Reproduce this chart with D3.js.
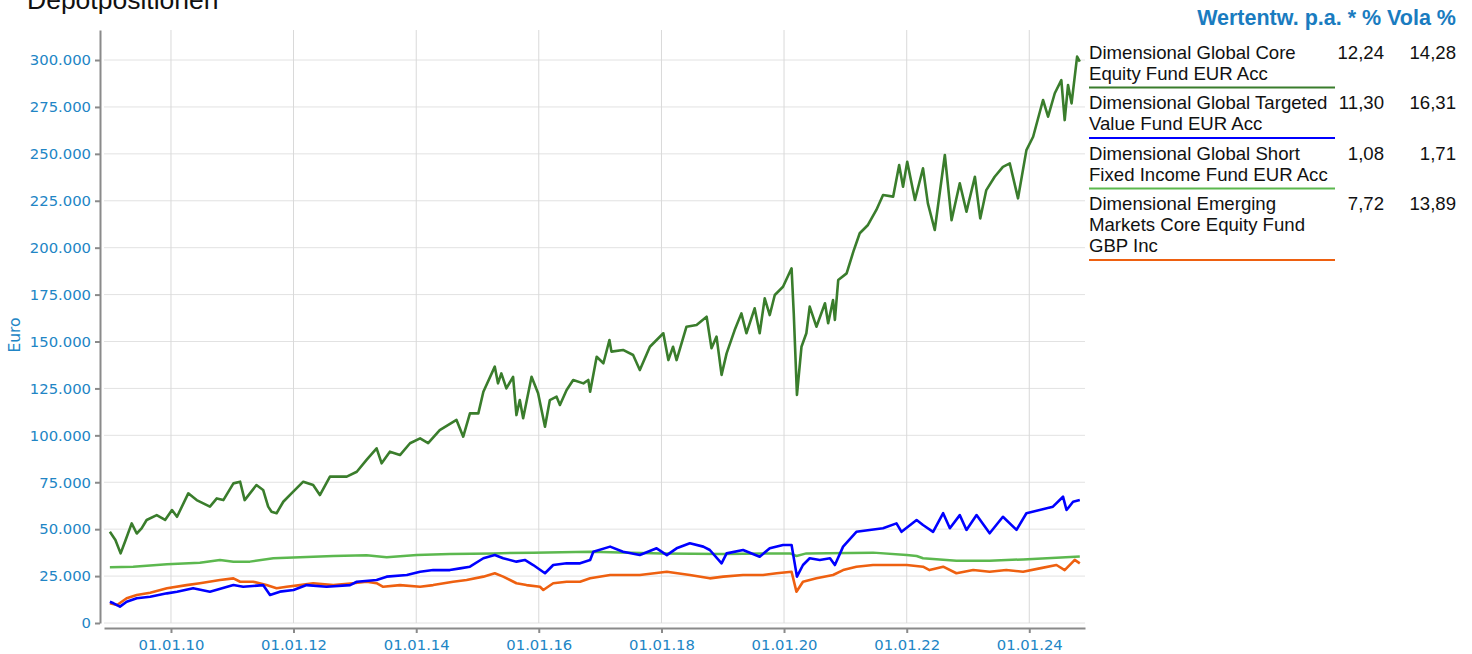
<!DOCTYPE html>
<html>
<head>
<meta charset="utf-8">
<script src="https://cdn.jsdelivr.net/npm/d3@7"></script>
<style>
  body { margin: 0; background: #fff; }
  svg { display: block; }
</style>
</head>
<body>
<svg id="chart"></svg>
<script>
// values (Euro, approx.)
const coreEquity = [
  ["2009-01-02",48600],["2009-02-04",44200],["2009-03-07",37100],["2009-04-02",43300],["2009-05-12",53100],
  ["2009-06-11",47700],["2009-07-10",50400],["2009-08-09",54900],["2009-10-08",57500],["2009-11-27",54900],
  ["2010-01-07",60200],["2010-02-06",56600],["2010-04-14",69100],["2010-06-03",65500],["2010-08-21",62000],
  ["2010-10-01",66400],["2010-11-09",65500],["2011-01-08",74400],["2011-02-17",75300],["2011-03-16",65500],
  ["2011-05-25",73500],["2011-07-04",70900],["2011-08-03",62000],["2011-08-23",59300],["2011-09-22",58500],
  ["2011-11-01",64600],["2011-12-20",69100],["2012-02-28",75300],["2012-04-27",73500],["2012-06-06",68200],
  ["2012-08-05",78000],["2012-11-13",78000],["2013-01-12",80600],["2013-03-11",86900],["2013-05-10",93100],
  ["2013-06-09",85100],["2013-07-28",91300],["2013-09-26",89500],["2013-11-25",95800],["2014-01-24",98400],
  ["2014-03-13",95800],["2014-05-21",102800],["2014-08-29",108200],["2014-10-08",99300],["2014-11-17",111700],
  ["2015-01-06",111700],["2015-02-05",123200],["2015-04-14",136600],["2015-05-03",127700],["2015-05-23",133000],
  ["2015-06-22",125000],["2015-08-01",131200],["2015-08-21",110800],["2015-09-10",118800],["2015-09-30",109100],
  ["2015-11-19",131200],["2015-12-28",122400],["2016-02-07",104600],["2016-03-07",118800],["2016-04-16",120600],
  ["2016-05-06",116200],["2016-06-15",124200],["2016-07-24",129500],["2016-09-23",127700],["2016-10-22",129500],
  ["2016-11-02",123200],["2016-12-11",141900],["2017-01-20",138400],["2017-02-25",150800],["2017-03-09",144600],
  ["2017-05-17",145500],["2017-07-16",142800],["2017-08-25",134800],["2017-10-24",147200],["2018-01-12",154400],
  ["2018-02-11",140100],["2018-03-11",147200],["2018-04-01",140100],["2018-05-30",157900],["2018-07-29",158800],
  ["2018-09-27",163200],["2018-10-26",146400],["2018-11-25",152600],["2018-12-25",132200],["2019-01-24",143700],
  ["2019-03-13",156100],["2019-04-22",165000],["2019-05-22",154400],["2019-07-10",167700],["2019-08-09",154400],
  ["2019-09-08",173000],["2019-10-08",164100],["2019-11-07",174800],["2019-12-26",179200],["2020-02-15",189000],
  ["2020-02-28",165000],["2020-03-18",121500],["2020-04-14",147200],["2020-05-13",154400],["2020-06-02",168600],
  ["2020-07-12",157900],["2020-09-01",170400],["2020-09-20",159700],["2020-10-19",172100],["2020-10-30",161500],
  ["2020-11-19",182800],["2021-01-08",186300],["2021-02-17",197900],["2021-03-27",207700],["2021-05-15",212100],
  ["2021-07-04",220100],["2021-08-13",228100],["2021-10-12",227200],["2021-11-17",244000],["2021-12-10",232500],
  ["2022-01-04",245800],["2022-02-19",225400],["2022-04-08",242300],["2022-05-07",223600],["2022-06-17",209400],
  ["2022-08-16",249400],["2022-09-25",214700],["2022-11-13",234300],["2022-12-23",219200],["2023-02-11",237800],
  ["2023-03-15",215600],["2023-04-20",230700],["2023-06-09",237800],["2023-07-28",243100],["2023-09-07",244900],
  ["2023-10-26",226300],["2023-12-15",252000],["2024-01-24",259100],["2024-03-23",278700],["2024-04-22",269800],
  ["2024-06-01",282300],["2024-07-10",289300],["2024-07-30",268000],["2024-08-19",286700],["2024-09-09",276900],
  ["2024-10-12",301800],["2024-10-28",299100]
]

const targetedValue = [
  ["2009-01-02",11300],["2009-01-24",10500],["2009-03-03",8700],["2009-04-12",11300],["2009-06-11",13200],
  ["2009-08-30",14000],["2009-12-08",15800],["2010-02-06",16700],["2010-05-13",18500],["2010-08-21",16700],
  ["2011-01-08",20200],["2011-03-07",19300],["2011-07-04",20200],["2011-08-14",14900],["2011-10-12",16700],
  ["2012-01-01",17600],["2012-03-19",20200],["2012-07-16",19300],["2012-12-03",20200],["2013-01-12",22000],
  ["2013-05-10",22900],["2013-07-09",24700],["2013-11-06",25600],["2014-01-24",27300],["2014-04-12",28200],
  ["2014-07-20",28200],["2014-09-19",29100],["2014-11-17",30000],["2015-02-05",34500],["2015-04-14",36200],
  ["2015-06-03",34500],["2015-08-21",32700],["2015-10-10",33600],["2015-11-29",30900],["2016-02-07",26500],
  ["2016-03-27",30900],["2016-06-15",31800],["2016-09-03",31800],["2016-11-02",33600],["2016-11-21",38000],
  ["2017-03-01",40700],["2017-05-17",38000],["2017-08-25",36200],["2017-12-03",39800],["2018-02-02",36200],
  ["2018-04-01",39800],["2018-06-19",42500],["2018-09-07",40700],["2018-10-16",38900],["2018-12-25",31800],
  ["2019-01-24",37100],["2019-05-02",38900],["2019-08-09",35300],["2019-10-08",39800],["2019-12-26",41600],
  ["2020-02-15",41600],["2020-03-18",24700],["2020-04-23",30900],["2020-06-02",34500],["2020-08-01",33600],
  ["2020-10-01",34500],["2020-10-30",30900],["2020-12-18",40700],["2021-03-07",48600],["2021-05-25",49600],
  ["2021-08-13",50500],["2021-11-01",53100],["2021-12-01",48600],["2022-03-01",54900],["2022-04-08",52200],
  ["2022-06-07",48600],["2022-08-06",58500],["2022-09-15",50500],["2022-11-13",57500],["2022-12-23",49600],
  ["2023-02-21",57500],["2023-05-10",47800],["2023-07-28",56600],["2023-10-17",49600],["2023-12-15",58500],
  ["2024-03-03",60200],["2024-05-21",62000],["2024-07-20",67300],["2024-08-10",60200],["2024-09-18",64600],
  ["2024-10-28",65500]
]

const shortFixed = [
  ["2009-01-02",29700],["2009-05-21",30000],["2009-12-08",31300],["2010-06-22",32100],["2010-10-20",33600],
  ["2011-01-08",32700],["2011-04-16",32700],["2011-09-03",34500],["2012-02-09",35000],["2012-08-25",35700],
  ["2013-03-11",36100],["2013-07-09",35000],["2014-01-05",36200],["2014-07-20",36800],["2015-04-04",37100],
  ["2015-11-29",37500],["2016-11-02",38000],["2018-01-03",37100],["2019-01-04",36800],["2020-02-06",37100],
  ["2020-03-15",35700],["2020-05-13",37100],["2021-06-14",37500],["2022-01-01",36200],["2022-03-01",35700],
  ["2022-04-08",34500],["2022-07-17",33900],["2022-10-24",33200],["2023-05-10",33200],["2023-11-25",33900],
  ["2024-06-11",34800],["2024-10-28",35500]
]

const emergingMarkets = [
  ["2009-01-02",10500],["2009-02-14",9600],["2009-04-12",13200],["2009-06-11",14900],["2009-08-30",16100],
  ["2009-12-08",18500],["2010-04-04",20200],["2010-06-22",21200],["2010-10-20",22900],["2011-01-08",23800],
  ["2011-02-17",22000],["2011-05-05",22000],["2011-07-24",20200],["2011-09-22",18500],["2011-11-21",19300],
  ["2012-02-09",20200],["2012-04-27",21200],["2012-08-25",20200],["2012-12-22",21200],["2013-03-11",22000],
  ["2013-05-10",21200],["2013-06-18",19300],["2013-09-26",20200],["2014-01-24",19300],["2014-04-12",20200],
  ["2014-08-09",22000],["2014-10-28",22900],["2015-02-05",24700],["2015-04-14",26500],["2015-06-03",24700],
  ["2015-08-21",21200],["2015-10-20",20200],["2016-01-08",19300],["2016-01-28",17600],["2016-03-27",21200],
  ["2016-06-15",22000],["2016-09-03",22000],["2016-11-02",23800],["2017-03-01",25600],["2017-08-25",25600],
  ["2018-02-02",27300],["2018-06-19",25600],["2018-10-16",23800],["2019-01-04",24700],["2019-05-02",25600],
  ["2019-08-29",25600],["2019-11-18",26500],["2020-02-15",27300],["2020-03-15",16700],["2020-04-23",22000],
  ["2020-07-12",23800],["2020-10-19",25600],["2020-12-18",28200],["2021-03-07",30000],["2021-06-14",30900],
  ["2021-09-22",30900],["2022-01-01",30900],["2022-04-08",30000],["2022-05-17",28200],["2022-08-06",30000],
  ["2022-10-24",26500],["2023-02-01",28200],["2023-05-10",27300],["2023-08-17",28200],["2023-11-25",27300],
  ["2024-03-03",29100],["2024-06-11",30900],["2024-07-30",28200],["2024-09-28",33600],["2024-10-28",31800]
]

const fundNames = [
  ["Dimensional Global Core", "Equity Fund EUR Acc"],
  ["Dimensional Global Targeted", "Value Fund EUR Acc"],
  ["Dimensional Global Short", "Fixed Income Fund EUR Acc"],
  ["Dimensional Emerging", "Markets Core Equity Fund", "GBP Inc"]
]
const fundReturns = [12.24, 11.30, 1.08, 7.72]
const fundVolas = [14.28, 16.31, 1.71, 13.89]
const fundColors = ["#3a7d2c", "#0000ff", "#5cb84f", "#ee6010"]
const fundSeries = [coreEquity, targetedValue, shortFixed, emergingMarkets]

const yTicks = [0, 25000, 50000, 75000, 100000, 125000, 150000, 175000, 200000, 225000, 250000, 275000, 300000]
const xTicks = ["2010-01-01", "2012-01-01", "2014-01-01", "2016-01-01", "2018-01-01", "2020-01-01", "2022-01-01", "2024-01-01"]

const width = 1472
const height = 654
const axisBlue = "#2185c5"

const de = d3.formatLocale({ decimal: ",", thousands: ".", grouping: [3], currency: ["", " €"] })
const fmtInt = de.format(",d")
const fmtPct = de.format(".2f")
const parse = d3.timeParse("%Y-%m-%d")

const svg = d3.select("#chart")
  .attr("width", width)
  .attr("height", height)
  .style("font-family", "'Liberation Sans', Arial, sans-serif")

const x = d3.scaleTime()
  .domain([parse("2008-11-28"), parse("2024-11-28")])
  .range([104, 1085])
const y = d3.scaleLinear()
  .domain([0, 316000])
  .range([623, 30])

// title, cut off at the top like in the original
svg.append("text")
  .attr("x", 27)
  .attr("y", 9)
  .attr("font-size", 26.5)
  .attr("fill", "#111")
  .text("Depotpositionen")

// grid
const grid = svg.append("g")
grid.selectAll(".hgrid")
  .data(yTicks)
  .join("line")
  .attr("x1", 104).attr("x2", 1085)
  .attr("y1", d => y(d)).attr("y2", d => y(d))
  .attr("stroke", "#e2e2e2")
  .attr("stroke-width", 1)
grid.selectAll(".vgrid")
  .data(xTicks)
  .join("line")
  .attr("x1", d => x(parse(d))).attr("x2", d => x(parse(d)))
  .attr("y1", 30).attr("y2", 623)
  .attr("stroke", "#d9d9d9")
  .attr("stroke-width", 1)

// axes
const yAxis = svg.append("g")
  .attr("transform", "translate(100,0)")
  .call(d3.axisLeft(y).tickValues(yTicks).tickFormat(fmtInt).tickSize(5).tickSizeOuter(0).tickPadding(4))
const xAxis = svg.append("g")
  .attr("transform", "translate(0,628)")
  .call(d3.axisBottom(x).tickValues(xTicks.map(parse)).tickFormat(d3.timeFormat("%d.%m.%y")).tickSize(5).tickSizeOuter(0).tickPadding(6))

for (const ax of [yAxis, xAxis]) {
  ax.select(".domain").attr("stroke", "#8a8a8a").attr("stroke-width", 2)
  ax.selectAll(".tick line").attr("stroke", "#8a8a8a").attr("stroke-width", 2)
  ax.selectAll(".tick text")
    .attr("fill", axisBlue)
    .style("font-family", "'DejaVu Sans', Verdana, sans-serif")
    .style("font-size", "14.8px")
}

svg.append("text")
  .attr("transform", "translate(20,335) rotate(-90)")
  .attr("text-anchor", "middle")
  .attr("fill", axisBlue)
  .style("font-family", "'DejaVu Sans', Verdana, sans-serif")
  .style("font-size", "15.5px")
  .text("Euro")

// lines, last fund at the bottom
const line = d3.line()
  .x(d => x(parse(d[0])))
  .y(d => y(d[1]))

const order = [3, 2, 1, 0]
svg.append("g")
  .selectAll("path")
  .data(order)
  .join("path")
  .attr("d", i => line(fundSeries[i]))
  .attr("fill", "none")
  .attr("stroke", i => fundColors[i])
  .attr("stroke-width", i => i === 2 ? 2.5 : 2.6)
  .attr("stroke-linejoin", "round")

// legend table
const legend = svg.append("g")
legend.append("text")
  .attr("x", 1456)
  .attr("y", 25)
  .attr("text-anchor", "end")
  .attr("font-size", 21.5)
  .attr("font-weight", "bold")
  .attr("fill", "#1a7cc0")
  .text("Wertentw. p.a. * % Vola %")

let rowY = 58.5
const lineH = 21
fundNames.forEach((lines, i) => {
  const row = legend.append("g")
  row.selectAll("text.name")
    .data(lines)
    .join("text")
    .attr("x", 1089)
    .attr("y", (d, k) => rowY + k * lineH)
    .attr("font-size", 18.6)
    .attr("fill", "#111")
    .text(d => d)
  row.append("text")
    .attr("x", 1384).attr("y", rowY)
    .attr("text-anchor", "end")
    .attr("font-size", 18.6)
    .attr("fill", "#111")
    .text(fmtPct(fundReturns[i]))
  row.append("text")
    .attr("x", 1456).attr("y", rowY)
    .attr("text-anchor", "end")
    .attr("font-size", 18.6)
    .attr("fill", "#111")
    .text(fmtPct(fundVolas[i]))
  const under = rowY + (lines.length - 1) * lineH + 8
  row.append("line")
    .attr("x1", 1089).attr("x2", 1335)
    .attr("y1", under).attr("y2", under)
    .attr("stroke", fundColors[i])
    .attr("stroke-width", 2)
  rowY = under + 21.5
})
</script>
</body>
</html>
